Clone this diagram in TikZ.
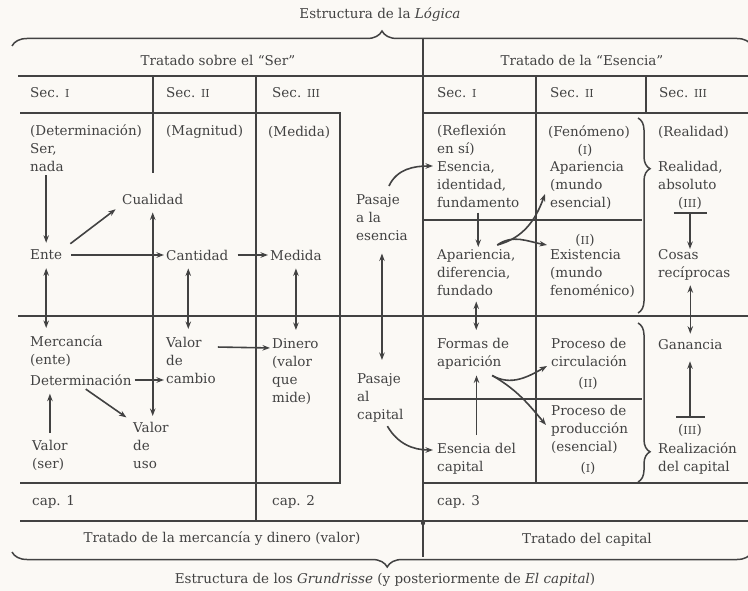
\documentclass[tikz,border=0pt]{standalone}
\usepackage{fontspec}
\setmainfont{DejaVu Serif}
\usetikzlibrary{arrows.meta, decorations.pathreplacing}
\definecolor{ink}{RGB}{66,66,66}
\definecolor{paper}{RGB}{251,249,245}
\newcommand{\rn}[1]{{\fontsize{11}{11}\selectfont #1}}

\begin{document}
\begin{tikzpicture}[x = 1pt, y = -1pt, >={Stealth[length = 7.5pt, width = 5.5pt]},
    every node/.style = {font = \fontsize{13.5}{18}\selectfont, text = ink, inner sep = 0pt},
    blk/.style = {anchor = north west, align = left},
    lbl/.style = {anchor = west},
    rule/.style = {draw = ink, line width = 1.7pt},
    arr/.style = {draw = ink, line width = 1.6pt, ->},
    darr/.style = {draw = ink, line width = 1.6pt, <->},
    barr/.style = {draw = ink, line width = 1.6pt, arrows = {Bar[width = #1]-Stealth[length = 7.5pt, width = 5.5pt]}},
    brc/.style = {draw = ink, line width = 1.5pt, decorate, decoration = {brace, amplitude = 12pt}}]
    \fill[paper] (0,0) rectangle (748,591);
    \useasboundingbox (0,0) rectangle (748,591);

    \draw[rule] (18,76) -- (748,76);
    \draw[rule] (20,113) -- (340,113) -- (340,483) -- (20,483);
    \draw[rule] (423,113) -- (748,113);
    \draw[rule] (18,316) -- (748,316);
    \draw[rule] (423,483) -- (748,483);
    \draw[rule] (20,521) -- (748,521);
    \draw[rule] (153,76) -- (153,173);
    \draw[rule] (256,76) -- (256,520);
    \draw[rule] (423,38) -- (423,557);
    \draw[rule] (536,76) -- (536,483);
    \draw[rule] (646,76) -- (646,113);
    \draw[rule] (423,220) -- (642,220);
    \draw[rule] (423,399) -- (642,399);
    \fill[ink] (423,523) circle (2.2);
    \draw[brc, decoration = {amplitude = 15pt}] (12,46) -- (752,46);
    \draw[brc, decoration = {amplitude = 15pt, aspect = 0.493}] (752,552) -- (12,552);
    \draw[brc, decoration = {aspect = 0.26}] (638,118) -- (638,313);
    \draw[brc, decoration = {aspect = 0.81}] (638,323) -- (638,482);

    \node (tlog) at (380,15) {Estructura de la \textit{Lógica}};
    \node (tser) at (218,60) {Tratado sobre el ``Ser''};
    \node (tesn) at (582,60) {Tratado de la ``Esencia''};
    \node (tmer) at (222,539) {Tratado de la mercancía y dinero (valor)};
    \node (tcap) at (587,540) {Tratado del capital};
    \node (tgru) at (385,580) {Estructura de los \textit{Grundrisse} (y posteriormente de \textit{El capital})};
    \node[lbl] (s1) at (30,93) {Sec. \rn{I}};
    \node[lbl] (s2) at (166,93) {Sec. \rn{II}};
    \node[lbl] (s3) at (272,93) {Sec. \rn{III}};
    \node[lbl] (e1) at (437,93) {Sec. \rn{I}};
    \node[lbl] (e2) at (550,93) {Sec. \rn{II}};
    \node[lbl] (e3) at (659,93) {Sec. \rn{III}};
    \node[lbl] (cap1) at (32,502) {cap. 1};
    \node[lbl] (cap2) at (272,502) {cap. 2};
    \node[lbl] (cap3) at (437,502) {cap. 3};

    \node[blk] (det) at (30,125) {(Determinación)\\Ser,\\nada};
    \node[lbl] (mag) at (166,132) {(Magnitud)};
    \node[lbl] (med) at (268,132) {(Medida)};
    \node[lbl] (cual) at (122,199) {Cualidad};
    \node[lbl] (ente) at (30,255) {Ente};
    \node[lbl] (cant) at (166,255) {Cantidad};
    \node[lbl] (medida) at (270,255) {Medida};
    \node[blk] (pas1) at (356,194) {Pasaje\\a la\\esencia};
    \node[blk] (merc) at (30,336) {Mercancía\\(ente)};
    \node[lbl] (deter) at (30,380) {Determinación};
    \node[blk] (valcam) at (166,337) {Valor\\de\\cambio};
    \node[blk] (din) at (272,338) {Dinero\\(valor\\que\\mide)};
    \node[blk] (pas2) at (357,373) {Pasaje\\al\\capital};
    \node[blk] (valser) at (32,440) {Valor\\(ser)};
    \node[blk] (valuso) at (133,422) {Valor\\de\\uso};

    \node[blk] (refl) at (437,125) {(Reflexión\\en sí)};
    \node[blk] (esen) at (437,161) {Esencia,\\identidad,\\fundamento};
    \node[blk] (apdif) at (437,249) {Apariencia,\\diferencia,\\fundado};
    \node[blk] (formas) at (437,338) {Formas de\\aparición};
    \node[blk] (escap) at (437,443) {Esencia del\\capital};
    \node[lbl] (fen) at (548,132) {(Fenómeno)};
    \node (f1) at (585,150) {(\rn{I})};
    \node[blk] (apar) at (550,161) {Apariencia\\(mundo\\esencial)};
    \node (f2) at (585,240) {(\rn{II})};
    \node[blk] (exis) at (550,249) {Existencia\\(mundo\\fenoménico)};
    \node[blk] (circ) at (551,338) {Proceso de\\circulación};
    \node (p2) at (588,383) {(\rn{II})};
    \node[blk] (prod) at (551,405) {Proceso de\\producción\\(esencial)};
    \node (p1) at (588,468) {(\rn{I})};
    \node[lbl] (realid) at (658,132) {(Realidad)};
    \node[blk] (abs) at (658,161) {Realidad,\\absoluto};
    \node (r3) at (690,203) {(\rn{III})};
    \node[blk] (cosas) at (658,249) {Cosas\\recíprocas};
    \node[lbl] (gan) at (658,345) {Ganancia};
    \node (g3) at (690,430) {(\rn{III})};
    \node[blk] (realiz) at (658,443) {Realización\\del capital};

    \draw[arr, shorten <= 3pt, shorten >= 7pt] (det.south -| ente) -- (ente.north);
    \draw[arr, shorten <= 10pt, shorten >= 8pt] (ente.north east) -- (cual.south west);
    \draw[arr, shorten <= 9pt, shorten >= 2pt] (ente.east) -- (cant.west);
    \draw[arr, shorten <= 9pt, shorten >= 2pt] (cant.east) -- (medida.west);
    \draw[darr, shorten <= 8pt, shorten >= 6pt] (cual.south) -- (cual.south |- valuso.north);
    \draw[darr, shorten <= 8pt, shorten >= 8pt] (ente.south) -- (ente.south |- merc.north);
    \draw[darr, shorten <= 8pt, shorten >= 8pt] ([xshift = -9pt]cant.south) -- ([xshift = -9pt]cant.south |- valcam.north);
    \draw[darr, shorten <= 8pt, shorten >= 8pt] (medida.south) -- (medida.south |- din.north);
    \draw[darr, shorten <= 13pt, shorten >= 13pt] (pas1.south) -- (pas1.south |- pas2.north);
    \draw[arr, shorten <= 3pt, shorten >= 2pt] (deter.east) -- (deter.east -| valcam.west);
    \draw[arr, shorten <= 2pt, shorten >= 2pt] ([yshift = -10pt]valcam.north east) -- ([yshift = -10pt]din.north west);
    \draw[arr, shorten <= 7pt, shorten >= 8pt] (valser.north) -- (valser.north |- deter.south);
    \draw[arr, shorten <= 6pt, shorten >= 8pt] (deter.south) -- (valuso.north west);
    \draw[arr] ([xshift = 7pt, yshift = 8pt]pas1.north) to[out = 65, in = 180] ([xshift = -4pt, yshift = -5pt]esen.north west);
    \draw[arr] ([xshift = 7pt, yshift = -4pt]pas2.south) to[out = -60, in = 180] ([xshift = -4pt, yshift = -7pt]escap.north west);

    \draw[arr, shorten <= 5pt, shorten >= 2pt] (esen.south) -- (esen.south |- apdif.north);
    \draw[darr, shorten <= 6pt, shorten >= 8pt] (apdif.south) -- (apdif.south |- formas.north);
    \draw[arr, shorten <= 8pt, shorten >= 6pt] (escap.north) -- (escap.north |- formas.south);
    \draw[arr] ([xshift = 21pt, yshift = 4pt]apdif.north) to[out = 15, in = -110] ([xshift = -5pt, yshift = -33pt]apar.north west);
    \draw[arr] ([xshift = 21pt, yshift = 4pt]apdif.north) to[out = 35, in = 170] ([xshift = -3pt, yshift = 4pt]exis.north west);
    \draw[arr] ([xshift = 19pt, yshift = -6pt]formas.south) to[out = -30, in = -150] ([xshift = -4pt, yshift = -28pt]circ.north west);
    \draw[arr] ([xshift = 19pt, yshift = -6pt]formas.south) to[out = -30, in = 130] ([xshift = -5pt, yshift = -20pt]prod.north west);
    \draw[barr = 33pt] ([yshift = -3pt]r3.south) -- (r3.south |- cosas.north);
    \draw[darr, shorten <= 5pt, shorten >= 6pt] (cosas.south -| gan) -- (gan.north);
    \draw[barr = 29pt, shorten >= 11pt] ([yshift = 6pt]g3.north) -- (g3.north |- gan.south);
\end{tikzpicture}
\end{document}
